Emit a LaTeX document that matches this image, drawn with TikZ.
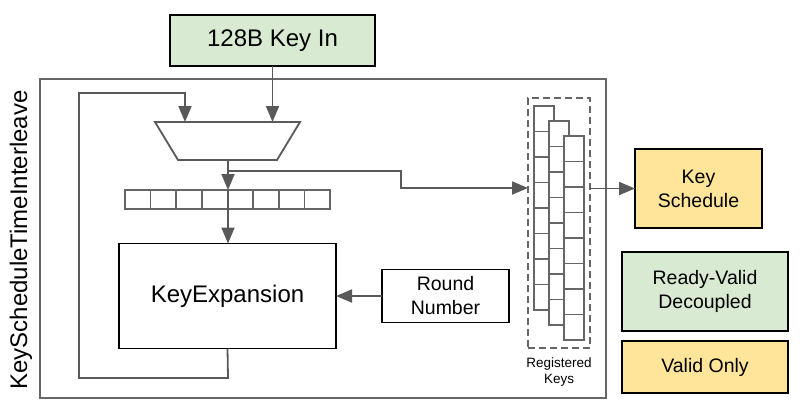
\documentclass[tikz,border=0pt]{standalone}
\usepackage{fontspec}
\setmainfont{Liberation Sans}
\usetikzlibrary{arrows.meta}
\definecolor{lgreen}{HTML}{D9EAD3}
\definecolor{lyellow}{HTML}{FFE599}
\definecolor{linegray}{HTML}{595959}
\definecolor{boxgray}{HTML}{666666}
\begin{document}
\begin{tikzpicture}[x=1pt,y=-1pt,
  box/.style={draw=black, line width=1.7pt, inner sep=0pt, outer sep=0pt, align=center},
  conn/.style={draw=linegray, line width=1.8pt, -{Triangle[length=16pt,width=13pt]}},
  frame/.style={draw=boxgray, line width=1.6pt, inner sep=0pt, outer sep=0pt},
  stack/.style={draw=boxgray, line width=1.7pt, fill=white, inner sep=0pt, outer sep=0pt, minimum width=20pt, minimum height=204pt},
  fbig/.style={font=\fontsize{24}{28}\selectfont},
  fmid/.style={font=\fontsize{19.5}{24}\selectfont},
  fsmall/.style={font=\fontsize{13.5}{16}\selectfont},
]
\useasboundingbox (0,0) rectangle (802,410);
\fill[white] (0,0) rectangle (802,410);

% outer frame and title
\node[frame, minimum width=566pt, minimum height=319pt] (outer) at (323,238.5) {};
\node[rotate=90, fbig, inner sep=0pt] (title) at (21,240) {KeyScheduleTimeInterleave};

% key input
\node[box, fill=lgreen, minimum width=205pt, minimum height=51pt, fbig] (keyin) at (272.5,40.5) {128B Key In};

% mux
\draw[draw=linegray, line width=1.8pt, fill=white] (155,122) -- (300,122) -- (277,160) -- (178,160) -- cycle;
\coordinate (muxA) at (185,122);
\coordinate (muxB) at (272.5,122);
\coordinate (muxO) at (228,160);
\coordinate (branch) at (228,171);
\coordinate (bend1) at (401,171);
\coordinate (bend2) at (401,188);

% register bar
\node[frame, line width=1.7pt, minimum width=205pt, minimum height=19pt] (regbar) at (227.5,199.5) {};
\foreach \i in {1,...,7} \draw[draw=boxgray, line width=1.7pt] (125+\i*25.625,190) -- ++(0,19);

% key expansion
\node[box, minimum width=217pt, minimum height=105pt, fbig] (kexp) at (227.5,296) {KeyExpansion};
\node[box, minimum width=127pt, minimum height=53pt, fmid] (round) at (445.5,296) {Round\\Number};

% registered keys
\node[frame, dashed, dash pattern=on 7pt off 4pt, minimum width=62pt, minimum height=250pt] (regs) at (559,223) {};
\foreach \n/\cx/\cy in {s1/544/208, s2/559/223, s3/574/238} {
  \node[stack] (\n) at (\cx,\cy) {};
  \foreach \j in {1,...,7} \draw[draw=boxgray, line width=1.7pt] (\cx-10,\cy-102+\j*25.5) -- ++(20,0);
}
\node[fsmall, align=center, inner sep=0pt] (regslabel) at (559,372) {Registered\\Keys};

% right side boxes
\node[box, fill=lyellow, minimum width=127pt, minimum height=79pt, fmid] (ks) at (698.5,188.5) {Key\\Schedule};
\node[box, fill=lgreen, minimum width=166pt, minimum height=79pt, fmid] (rv) at (705,291.5) {Ready-Valid\\Decoupled};
\node[box, fill=lyellow, minimum width=166pt, minimum height=52pt, fmid] (vo) at (705,367) {Valid Only};

% connectors
\draw[conn] (keyin.south) -- (muxB);
\draw[conn] (kexp.south) -- (228,378) -- (79,378) -- (79,93) -| (muxA);
\draw[conn] (muxO) -- (muxO |- regbar.north);
\draw[conn] (muxO |- regbar.north) -- (muxO |- kexp.north);
\draw[conn] (branch) -- (bend1) -- (bend2) -- (regs.west |- bend2);
\draw[conn] (round.west) -- (kexp.east);
\draw[conn] (regs.east |- ks.west) -- (ks.west);
\end{tikzpicture}
\end{document}
